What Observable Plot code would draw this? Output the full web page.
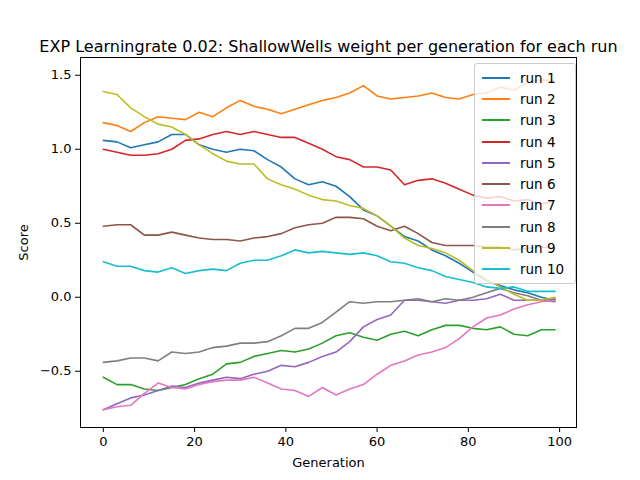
<!DOCTYPE html>
<html>
<head>
<meta charset="UTF-8">
<style>
  body { margin: 0; background: white; font-family: "DejaVu Sans", sans-serif; }
  #wrap { position: relative; width: 640px; height: 480px; }
  #legend { position: absolute; left: 474px; top: 63px; width: 100px; background: rgba(255,255,255,0.8);
    border: 1px solid #ccc; border-radius: 3px; padding: 3px 0; font-size: 13.5px; }
  #legend div { display: flex; align-items: center; height: 21.3px; }
  #legend span.sw { display: inline-block; width: 28px; height: 2px; margin: 0 10px 0 7px; }
</style>
</head>
<body>
<div id="wrap"><div id="legend"></div></div>
<script src="https://cdn.jsdelivr.net/npm/d3@7"></script>
<script src="https://cdn.jsdelivr.net/npm/@observablehq/plot@0.6"></script>
<script>
const generations = d3.range(0, 100, 3);
const runNames = ["run 1","run 2","run 3","run 4","run 5","run 6","run 7","run 8","run 9","run 10"];
const colors = ["#1f77b4","#ff7f0e","#2ca02c","#d62728","#9467bd","#8c564b","#e377c2","#7f7f7f","#bcbd22","#17becf"];

const run1 = [1.06,1.05,1.01,1.03,1.05,1.10,1.10,1.03,1.00,0.98,1.00,0.99,0.93,0.88,0.80,0.76,0.78,0.75,0.68,0.59,0.55,0.48,0.41,0.38,0.32,0.28,0.23,0.17,0.11,0.08,0.05,0.03,0.00,-0.02];
const run2 = [1.18,1.16,1.12,1.18,1.22,1.21,1.20,1.25,1.22,1.28,1.33,1.29,1.27,1.24,1.27,1.30,1.33,1.35,1.38,1.43,1.36,1.34,1.35,1.36,1.38,1.35,1.34,1.37,1.38,1.42,1.40,1.45,1.47,1.46];
const run3 = [-0.54,-0.59,-0.59,-0.62,-0.63,-0.61,-0.59,-0.55,-0.52,-0.45,-0.44,-0.40,-0.38,-0.36,-0.37,-0.35,-0.31,-0.26,-0.24,-0.27,-0.29,-0.25,-0.23,-0.26,-0.22,-0.19,-0.19,-0.21,-0.22,-0.20,-0.25,-0.26,-0.22,-0.22];
const run4 = [1.00,0.98,0.96,0.96,0.97,1.00,1.06,1.07,1.10,1.12,1.10,1.12,1.10,1.08,1.08,1.04,1.00,0.95,0.93,0.88,0.88,0.86,0.76,0.79,0.80,0.77,0.73,0.69,0.67,0.68,0.65,0.66,0.63,0.65];
const run5 = [-0.76,-0.72,-0.68,-0.66,-0.63,-0.60,-0.61,-0.58,-0.56,-0.54,-0.55,-0.52,-0.50,-0.46,-0.47,-0.44,-0.40,-0.37,-0.30,-0.20,-0.15,-0.12,-0.02,-0.02,-0.03,-0.04,-0.02,-0.02,-0.01,0.02,-0.02,-0.02,-0.02,-0.03];
const run6 = [0.48,0.49,0.49,0.42,0.42,0.44,0.42,0.40,0.39,0.39,0.38,0.40,0.41,0.43,0.47,0.49,0.50,0.54,0.54,0.53,0.48,0.45,0.48,0.43,0.37,0.35,0.35,0.35,0.34,0.34,0.32,0.33,0.34,0.33];
const run7 = [-0.76,-0.74,-0.73,-0.65,-0.58,-0.61,-0.62,-0.59,-0.57,-0.56,-0.56,-0.54,-0.58,-0.62,-0.63,-0.67,-0.61,-0.66,-0.62,-0.59,-0.52,-0.46,-0.43,-0.39,-0.37,-0.34,-0.28,-0.20,-0.14,-0.12,-0.08,-0.05,-0.03,-0.02];
const run8 = [-0.44,-0.43,-0.41,-0.41,-0.43,-0.37,-0.38,-0.37,-0.34,-0.33,-0.31,-0.31,-0.30,-0.26,-0.21,-0.21,-0.17,-0.10,-0.03,-0.04,-0.03,-0.03,-0.02,-0.01,-0.03,-0.01,-0.02,0.00,0.03,0.06,0.03,0.01,-0.02,-0.01];
const run9 = [1.39,1.37,1.28,1.22,1.17,1.15,1.10,1.03,0.97,0.92,0.90,0.90,0.80,0.76,0.73,0.69,0.66,0.65,0.62,0.60,0.55,0.48,0.40,0.35,0.33,0.30,0.25,0.18,0.12,0.07,0.02,-0.02,-0.02,0.00];
const run10 = [0.24,0.21,0.21,0.18,0.17,0.20,0.16,0.18,0.19,0.18,0.23,0.25,0.25,0.28,0.32,0.30,0.31,0.30,0.29,0.30,0.28,0.24,0.23,0.20,0.18,0.14,0.12,0.10,0.07,0.06,0.07,0.04,0.04,0.04];

const series = [run1,run2,run3,run4,run5,run6,run7,run8,run9,run10];
const rows = [];
series.forEach((vals, i) => vals.forEach((v, j) => rows.push({gen: generations[j], score: v, run: runNames[i]})));

const chart = Plot.plot({
  width: 640, height: 480,
  marginLeft: 80, marginRight: 64, marginTop: 57, marginBottom: 53,
  style: {fontFamily: "DejaVu Sans, sans-serif", fontSize: "13px", color: "black"},
  x: {domain: [-5, 103.7], ticks: [0,20,40,60,80,100], label: "Generation", labelAnchor: "center", labelArrow: "none", labelOffset: 39, tickSize: 5},
  y: {domain: [-0.88, 1.62], ticks: [-0.5,0,0.5,1,1.5], tickFormat: d3.format(".1f"), label: "Score", labelAnchor: "center", labelArrow: "none", labelOffset: 62, tickSize: 5},
  color: {domain: runNames, range: colors},
  marks: [
    Plot.frame({stroke: "black"}),
    Plot.line(rows, {x: "gen", y: "score", z: "run", stroke: "run", strokeWidth: 1.6}),
    Plot.text(["EXP Learningrate 0.02: ShallowWells weight per generation for each run"], {frameAnchor: "top", dy: -17, fontSize: 16, text: d => d})
  ]
});
const wrap = document.getElementById("wrap");
wrap.insertBefore(chart, wrap.firstChild);
const legend = document.getElementById("legend");
runNames.forEach((n, i) => {
  const d = document.createElement("div");
  d.innerHTML = `<span class="sw" style="background:${colors[i]}"></span>${n}`;
  legend.appendChild(d);
});
</script>
</body>
</html>
